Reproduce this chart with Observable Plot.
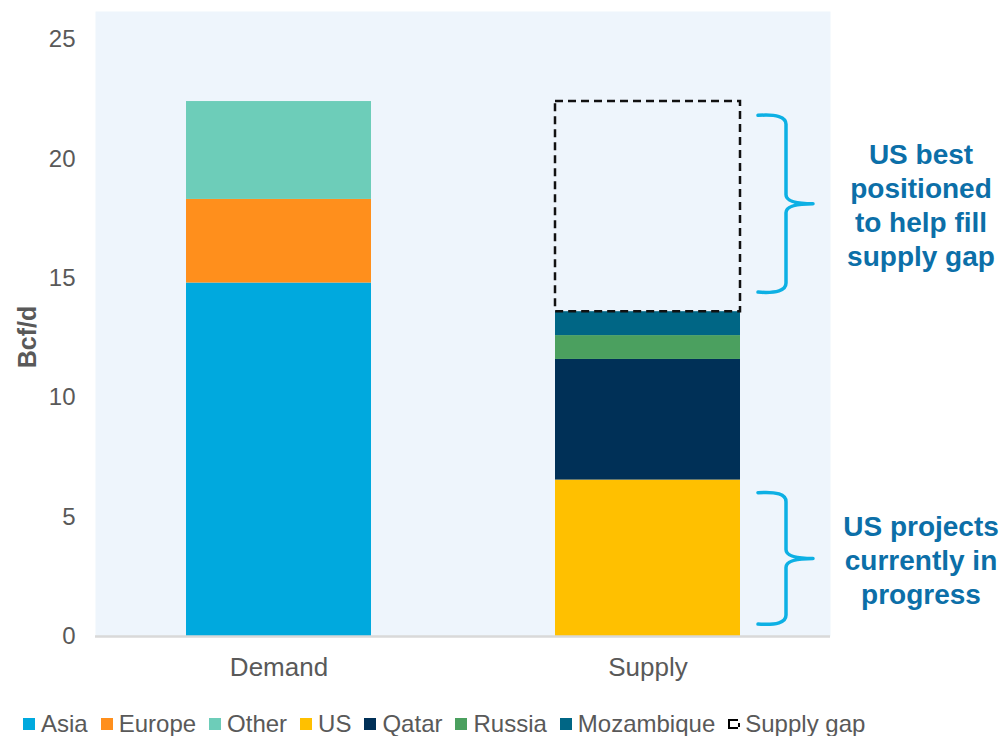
<!DOCTYPE html>
<html>
<head>
<meta charset="utf-8">
<script src="https://cdn.jsdelivr.net/npm/d3@7"></script>
<script src="https://cdn.jsdelivr.net/npm/@observablehq/plot@0.6"></script>
<style>
  html, body { margin: 0; padding: 0; background: #fff; }
  #wrap { position: relative; width: 1001px; height: 736px; overflow: hidden; font-family: "Liberation Sans", Arial, sans-serif; }
  #legend { position: absolute; left: 23px; top: 710px; display: flex; align-items: center; font-size: 24px; line-height: 28px; color: #595959; white-space: nowrap; }
  .item { display: flex; align-items: center; margin-right: 13px; }
  .sw { width: 12px; height: 12px; margin-right: 6px; box-sizing: border-box; }
  .sw.gap { border: 2px dashed #000; border-right-width: 0; width: 10px; height: 10px; margin-right: 7px; position: relative; }
  .sw.gap::after { content: ""; position: absolute; right: -2px; top: 2px; width: 2px; height: 4px; background: #000; }
</style>
</head>
<body>
<div id="wrap"><div id="chart"></div><div id="legend"></div></div>
<script>
// ---- data ----
const categories = ["Demand", "Supply"];
const demandSeries = ["Asia", "Europe", "Other"];
const demandValues = [14.8, 3.5, 4.1];
const supplySeries = ["US", "Qatar", "Russia", "Mozambique"];
const supplyValues = [6.55, 5.05, 1.0, 1.0];
const gapLabel = "Supply gap";
const seriesColors = ["#00A9DE", "#FF8F1C", "#6DCDB9", "#FFC000", "#003057", "#4BA05F", "#006685"];
const yTicks = [0, 5, 10, 15, 20, 25];
const yLabel = "Bcf/d";
const annotationTexts = ["US best\npositioned\nto help fill\nsupply gap", "US projects\ncurrently in\nprogress"];
const braceSpans = [[21.8, 14.4], [6.0, 0.5]];

// ---- derived tables ----
const allSeries = [...demandSeries, ...supplySeries];
const rows = [
  ...demandSeries.map((s, i) => ({cat: categories[0], series: s, value: demandValues[i]})),
  ...supplySeries.map((s, i) => ({cat: categories[1], series: s, value: supplyValues[i]}))
];
const demandTotal = d3.sum(demandValues);
const supplyTotal = d3.sum(supplyValues);
const gapRows = [{cat: categories[1], y1: supplyTotal, y2: demandTotal}];
const braces = braceSpans.map(([a, b], i) => ({top: a, bottom: b, mid: (a + b) / 2, text: annotationTexts[i]}));

const W = 1001, H = 700;

function braceMark(index, scales, values, dimensions, context) {
  const doc = (context && context.document) || document;
  const g = doc.createElementNS("http://www.w3.org/2000/svg", "g");
  const x = scales.x;
  const bw = x.bandwidth ? x.bandwidth() : 184;
  const edge = x(categories[1]) + bw;
  for (const b of braces) {
    const x0 = edge + 18, xv = edge + 46, xt = edge + 73;
    const y1 = scales.y(b.top), y2 = scales.y(b.bottom), ym = scales.y(b.mid);
    const r = 9;
    const p = doc.createElementNS("http://www.w3.org/2000/svg", "path");
    p.setAttribute("d",
      `M${x0},${y1} Q${xv},${y1 - 2} ${xv},${y1 + r} L${xv},${ym - r} Q${xv},${ym} ${xt},${ym}` +
      ` M${xt},${ym} Q${xv},${ym} ${xv},${ym + r} L${xv},${y2 - r} Q${xv},${y2 + 2} ${x0},${y2}`);
    p.setAttribute("fill", "none");
    p.setAttribute("stroke", "#0DB0E4");
    p.setAttribute("stroke-width", "3.5");
    p.setAttribute("stroke-linecap", "round");
    g.appendChild(p);
  }
  return g;
}

const chart = Plot.plot({
  width: W,
  height: H,
  marginLeft: 95,
  marginRight: 171,
  marginTop: 11,
  marginBottom: 64,
  style: {fontFamily: "'Liberation Sans', Arial, sans-serif", background: "#fff", overflow: "visible"},
  x: {domain: categories, paddingInner: 0.5, paddingOuter: 0.245, label: null},
  y: {domain: [0, 26.17], label: null},
  color: {domain: allSeries, range: seriesColors},
  marks: [
    Plot.frame({fill: "#EEF5FC", stroke: null}),
    Plot.barY(rows, {x: "cat", y: "value", fill: "series"}),
    Plot.barY(gapRows, {x: "cat", y1: "y1", y2: "y2", fill: "none", stroke: "#111", strokeWidth: 2.5, strokeDasharray: "8,5"}),
    Plot.ruleY([0], {stroke: "#D9D9D9", strokeWidth: 2.5}),
    Plot.axisY({ticks: yTicks, tickSize: 0, tickPadding: 20, fontSize: 24, color: "#595959", label: null, tickFormat: d => d}),
    Plot.axisX({tickSize: 0, tickPadding: 21, fontSize: 26, color: "#595959", label: null}),
    Plot.text([yLabel], {frameAnchor: "left", textAnchor: "middle", text: d => d, rotate: -90, dx: -68, dy: 13, fontSize: 25, fontWeight: "bold", fill: "#595959"}),
    braceMark,
    Plot.text(braces, {x: () => categories[1], y: "mid", text: "text", dx: 273, fontSize: 28, fontWeight: "bold", fill: "#0C6FA8", lineHeight: 1.22, textAnchor: "middle"})
  ]
});
document.getElementById("chart").appendChild(chart);

// ---- legend ----
const legend = document.getElementById("legend");
allSeries.forEach((s, i) => {
  const it = document.createElement("div"); it.className = "item";
  const sw = document.createElement("div"); sw.className = "sw"; sw.style.background = seriesColors[i];
  const t = document.createElement("span"); t.textContent = s;
  it.appendChild(sw); it.appendChild(t); legend.appendChild(it);
});
{
  const it = document.createElement("div"); it.className = "item";
  const sw = document.createElement("div"); sw.className = "sw gap";
  const t = document.createElement("span"); t.textContent = gapLabel;
  it.appendChild(sw); it.appendChild(t); legend.appendChild(it);
}
</script>
</body>
</html>
